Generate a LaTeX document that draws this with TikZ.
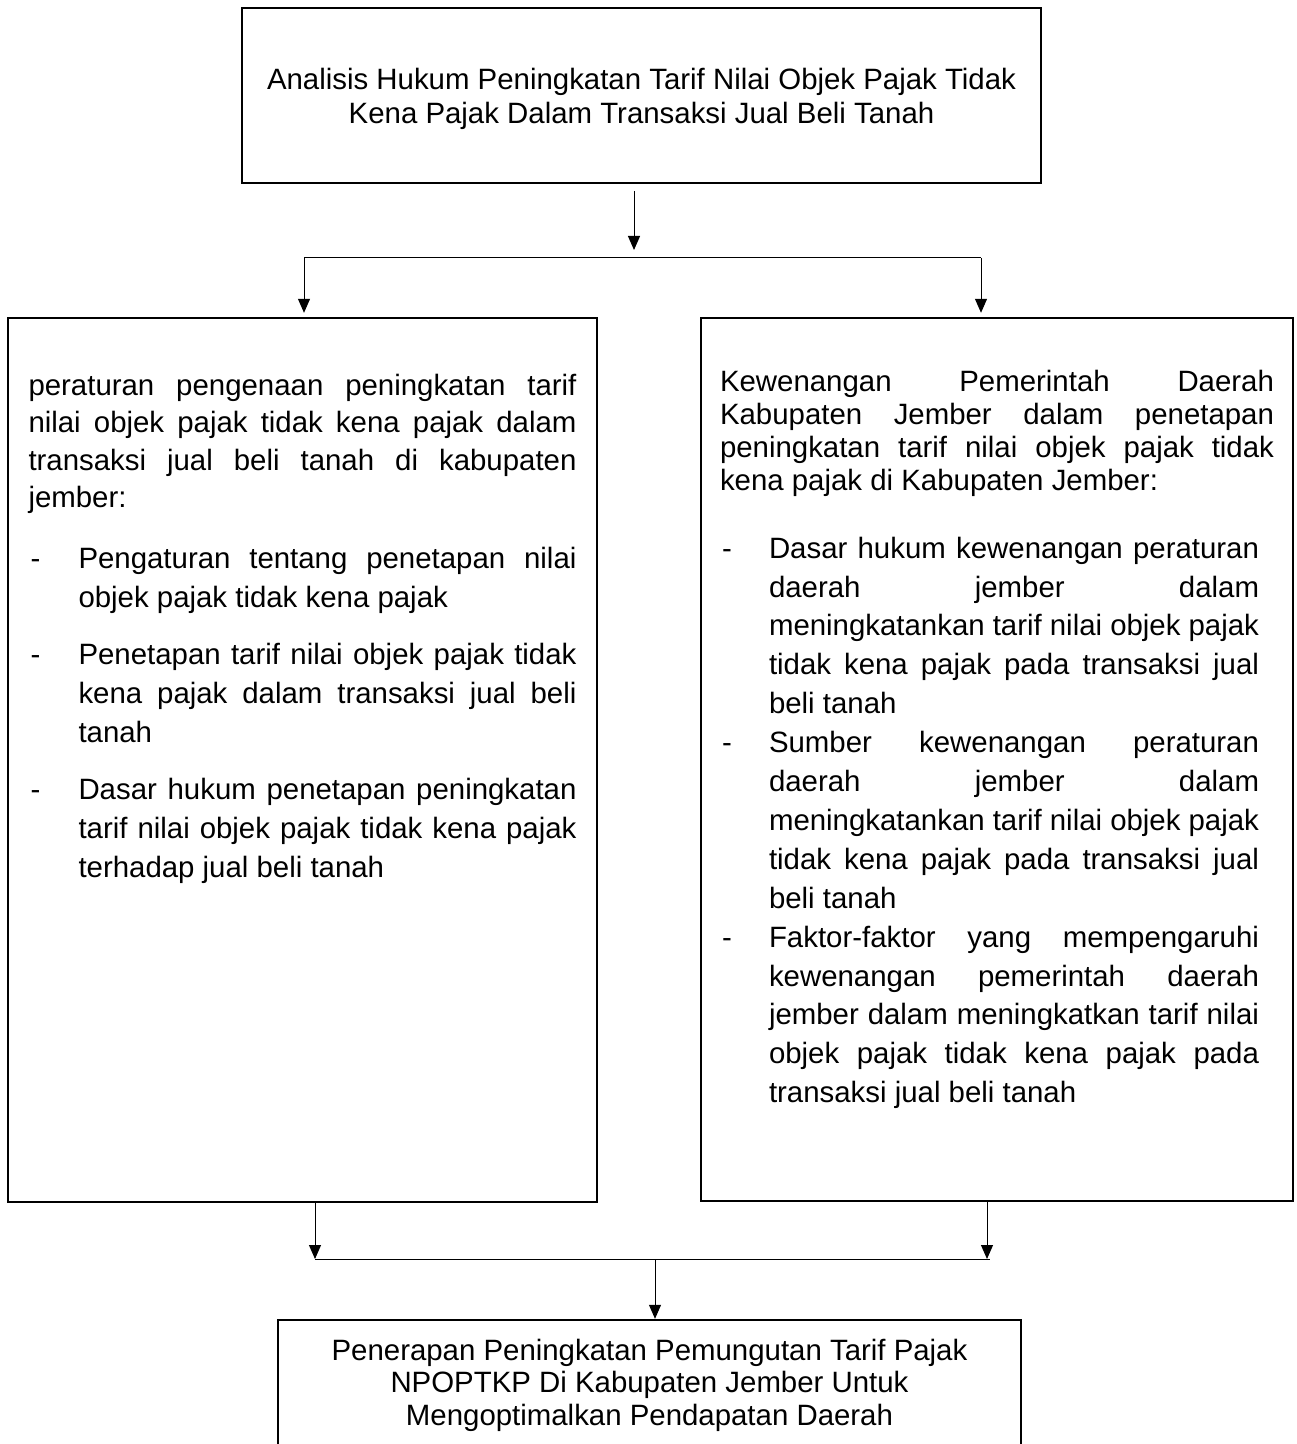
\documentclass[tikz,border=0pt]{standalone}
\usepackage{fontspec}
\setmainfont{Liberation Sans}
\usetikzlibrary{arrows.meta}

\newenvironment{poin}[3]{%
  \begin{list}{-}{%
    \setlength{\leftmargin}{#1}\setlength{\rightmargin}{#2}%
    \setlength{\labelwidth}{#1}\setlength{\labelsep}{0pt}%
    \setlength{\itemsep}{#3}\setlength{\parsep}{0pt}%
    \setlength{\topsep}{0pt}\setlength{\partopsep}{0pt}%
    \renewcommand{\makelabel}[1]{\hspace{1pt}##1\hfil}}}
  {\end{list}}

\begin{document}
\begin{tikzpicture}[x=0.5pt, y=-0.5pt,
  kotak/.style={rectangle, draw, line width=1.2pt, inner sep=0pt},
  panah/.style={-{Triangle[length=7pt,width=6pt]}, line width=0.5pt}]
  \useasboundingbox (0,0) rectangle (1296,1444);
  \clip (0,0) rectangle (1296,1444);
  \hyphenpenalty=10000 \exhyphenpenalty=10000 \tolerance=10000

  \node[kotak, minimum width=399.5pt, minimum height=87.5pt, align=center,
    font=\fontsize{14.7}{17.3}\selectfont] (judul) at (641.5,95.5)
    {\rule{0pt}{14pt}Analisis Hukum Peningkatan Tarif Nilai Objek Pajak Tidak\\Kena Pajak Dalam Transaksi Jual Beli Tanah};

  \node[kotak, minimum width=294.5pt, minimum height=442pt] (kiri) at (302.5,760)
    {\parbox[c][442pt][t]{274pt}{\fontsize{14.7}{18.75}\selectfont
      \rule{0pt}{38.5pt}peraturan pengenaan peningkatan tarif\linebreak
      nilai objek pajak tidak kena pajak dalam\linebreak
      transaksi jual beli tanah di kabupaten\linebreak
      jember:\par
      \fontsize{14.7}{19.5}\selectfont\vspace{11pt}
      \begin{poin}{25pt}{0pt}{9pt}
        \item Pengaturan tentang penetapan nilai\linebreak
          objek pajak tidak kena pajak
        \item Penetapan tarif nilai objek pajak tidak\linebreak
          kena pajak dalam transaksi jual beli\linebreak
          tanah
        \item Dasar hukum penetapan peningkatan\linebreak
          tarif nilai objek pajak tidak kena pajak\linebreak
          terhadap jual beli tanah
      \end{poin}}};

  \node[kotak, minimum width=296pt, minimum height=441.5pt] (kanan) at (997,759.5)
    {\parbox[c][441.5pt][t]{277pt}{\fontsize{14.7}{16.5}\selectfont
      \rule{0pt}{36.5pt}Kewenangan Pemerintah Daerah\linebreak
      Kabupaten Jember dalam penetapan\linebreak
      peningkatan tarif nilai objek pajak tidak\linebreak
      kena pajak di Kabupaten Jember:\par
      \fontsize{14.7}{19.45}\selectfont\vspace{14.6pt}
      \begin{poin}{24.5pt}{7.5pt}{0pt}
        \item Dasar hukum kewenangan peraturan\linebreak
          daerah jember dalam\linebreak
          meningkatankan tarif nilai objek pajak\linebreak
          tidak kena pajak pada transaksi jual\linebreak
          beli tanah
        \item Sumber kewenangan peraturan\linebreak
          daerah jember dalam\linebreak
          meningkatankan tarif nilai objek pajak\linebreak
          tidak kena pajak pada transaksi jual\linebreak
          beli tanah
        \item Faktor-faktor yang mempengaruhi\linebreak
          kewenangan pemerintah daerah\linebreak
          jember dalam meningkatkan tarif nilai\linebreak
          objek pajak tidak kena pajak pada\linebreak
          transaksi jual beli tanah
      \end{poin}}};

  \node[kotak, minimum width=371.5pt, minimum height=65pt, align=center,
    font=\fontsize{14.7}{16.25}\selectfont] (hasil) at (649.5,1385)
    {Penerapan Peningkatan Pemungutan Tarif Pajak\\NPOPTKP Di Kabupaten Jember Untuk\\Mengoptimalkan Pendapatan Daerah};

  % titik-titik cabang
  \coordinate (turun1) at (634,191);
  \coordinate (turun2) at (634,250);
  \coordinate (cabkiri) at (304,258);
  \coordinate (cabkanan) at (981,258);
  \coordinate (gabkiri) at (315,1259);
  \coordinate (gabkanan) at (990,1259);
  \coordinate (gabtengah) at (655,1259);

  \draw[panah] (turun1) -- (turun2);
  \draw[line width=0.5pt] (cabkiri) -- (cabkanan);
  \draw[panah, shorten >=2pt] (cabkiri) -- (cabkiri |- kiri.north);
  \draw[panah, shorten >=2pt] (cabkanan) -- (cabkanan |- kanan.north);

  \draw[panah] (kiri.south -| gabkiri) -- (gabkiri);
  \draw[panah] (kanan.south -| 987,0) -- (987,1259);
  \draw[line width=0.5pt] (gabkiri) -- (gabkanan);
  \draw[panah] (gabtengah) -- (gabtengah |- hasil.north);
\end{tikzpicture}
\end{document}
